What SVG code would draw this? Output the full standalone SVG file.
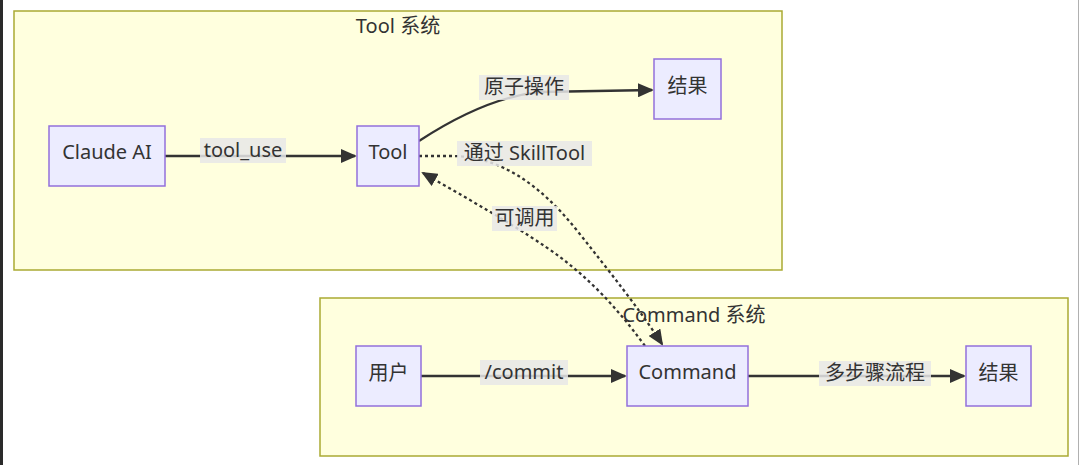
<svg xmlns="http://www.w3.org/2000/svg" width="1080" height="465" viewBox="0 0 1080 465">
<style>
  text { font-family: "Noto Sans", "Noto Sans CJK SC", "DejaVu Sans", sans-serif; font-size: 20px; fill: #333333; text-anchor: middle; }
  .cluster { fill: #ffffde; stroke: #aaaa33; stroke-width: 1.5; }
  .node rect { fill: #ececff; stroke: #9370db; stroke-width: 1.5; }
  .edge { fill: none; stroke: #333333; stroke-width: 2.3; }
  .dotted { stroke-dasharray: 3 3; }
  .lbl { fill: #e8e8e8; opacity: 0.85; }
</style>
<defs>
  <marker id="arrow" markerUnits="userSpaceOnUse" markerWidth="16" markerHeight="14" viewBox="0 0 16 14" refX="14" refY="7" orient="auto">
    <path d="M0,0 L16,7 L0,14 z" fill="#333333"/>
  </marker>
</defs>
<rect x="0" y="0" width="1080" height="465" fill="#ffffff"/>
<rect x="0" y="0" width="3" height="465" fill="#2a2a2a"/>
<line x1="1078.5" y1="0" x2="1078.5" y2="465" stroke="#b0b0b0" stroke-width="1"/>

<g id="cluster-tool">
  <rect class="cluster" x="14" y="11" width="768" height="259"/>
  <text x="398" y="33">Tool 系统</text>
</g>
<g id="cluster-command">
  <rect class="cluster" x="320" y="298" width="748" height="158"/>
</g>

<g id="connectors">
  <path class="edge" d="M165,156 L355,156" marker-end="url(#arrow)"/>
  <path class="edge" d="M419,141 C445,124 490,97 540,92 L652,90" marker-end="url(#arrow)"/>
  <path class="edge dotted" d="M419,156 L452,156 C500,156 540,185 575,228 C610,272 640,310 662,344" marker-end="url(#arrow)"/>
  <path class="edge dotted" d="M645,346 C615,305 590,280 560,257 C525,231 470,200 423,173" marker-end="url(#arrow)"/>
  <path class="edge" d="M421,376 L625,376" marker-end="url(#arrow)"/>
  <path class="edge" d="M748,376 L964,376" marker-end="url(#arrow)"/>

  <rect class="lbl" x="200" y="138" width="86" height="25"/>
  <text x="243" y="157">tool_use</text>
  <rect class="lbl" x="479" y="75" width="90" height="25"/>
  <text x="524" y="94">原子操作</text>
  <rect class="lbl" x="457" y="141" width="135" height="25"/>
  <text x="524.5" y="160">通过 SkillTool</text>
  <rect class="lbl" x="492" y="206" width="65" height="25"/>
  <text x="524.5" y="225">可调用</text>
  <rect class="lbl" x="480" y="360" width="88" height="25"/>
  <text x="524" y="379">/commit</text>
  <rect class="lbl" x="819" y="361" width="112" height="25"/>
  <text x="875" y="380">多步骤流程</text>
</g>

<text x="694" y="322">Command 系统</text>

<g id="node-claude" class="node">
  <rect x="49" y="126" width="116" height="60"/>
  <text x="107" y="159">Claude AI</text>
</g>
<g id="node-tool" class="node">
  <rect x="357" y="126" width="62" height="60"/>
  <text x="388" y="159">Tool</text>
</g>
<g id="node-result1" class="node">
  <rect x="654" y="59" width="67" height="60"/>
  <text x="687.5" y="93">结果</text>
</g>
<g id="node-user" class="node">
  <rect x="356" y="346" width="65" height="60"/>
  <text x="388.5" y="380">用户</text>
</g>
<g id="node-command" class="node">
  <rect x="627" y="346" width="121" height="60"/>
  <text x="687.5" y="379">Command</text>
</g>
<g id="node-result2" class="node">
  <rect x="966" y="346" width="65" height="60"/>
  <text x="998.5" y="380">结果</text>
</g>
</svg>
